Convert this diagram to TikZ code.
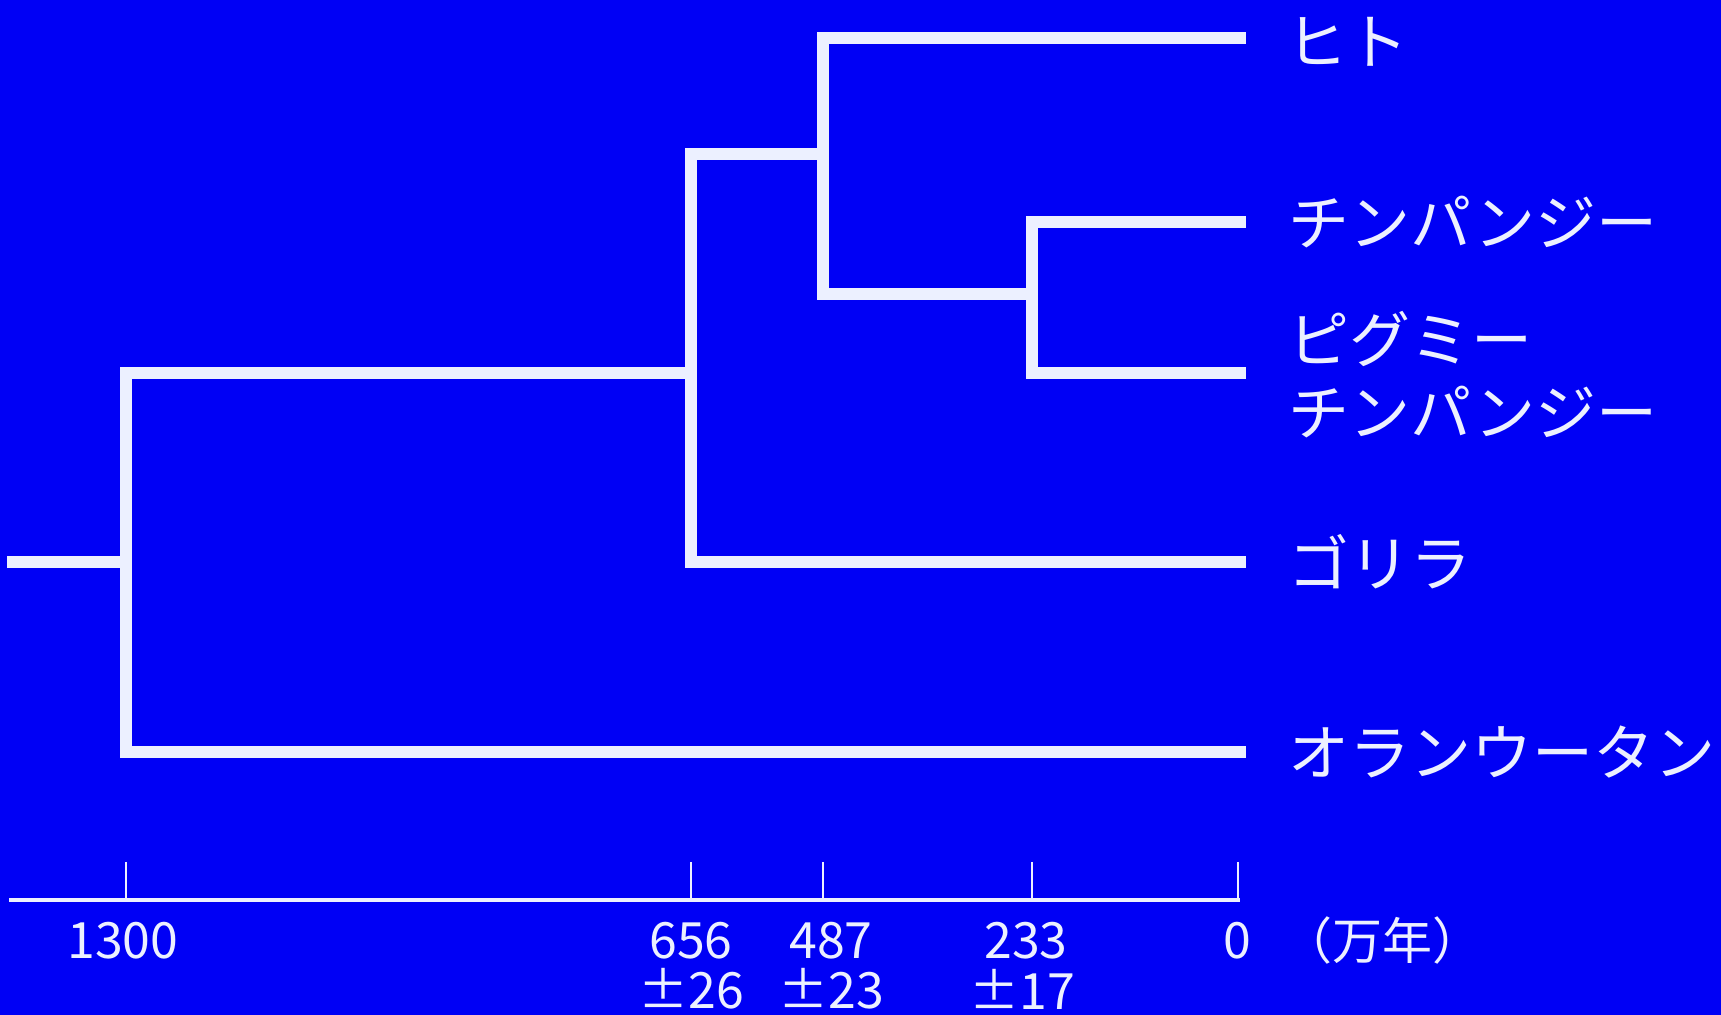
\documentclass[tikz,border=0pt]{standalone}
\usepackage{fontspec}
\newfontfamily\jpfont{Noto Sans CJK JP}
\definecolor{bgblue}{RGB}{0,0,245}
\definecolor{linewhite}{RGB}{236,240,255}
\begin{document}
\begin{tikzpicture}[x=0.5pt,y=-0.5pt,
  branch/.style={draw=linewhite,line width=6pt,line join=miter,line cap=rect},
  axisline/.style={draw=linewhite,line width=2pt},
  tickline/.style={draw=linewhite,line width=1pt},
  leaf/.style={anchor=west,text=linewhite,font=\jpfont\fontsize{30.5}{36.5}\selectfont,inner sep=0pt,align=left},
  ticklab/.style={anchor=center,text=linewhite,font=\jpfont\fontsize{25}{24}\selectfont,inner sep=0pt,align=center}]
\fill[bgblue] (0,0) rectangle (1721,1015);
\useasboundingbox (0,0) rectangle (1721,1015);
% leaf ends
\coordinate (hum) at (1240,38);
\coordinate (chi) at (1240,222);
\coordinate (pyg) at (1240,373);
\coordinate (gor) at (1240,562);
\coordinate (ora) at (1240,752);
% internal points
\coordinate (b487) at (823,294);
\coordinate (b487m) at (823,154);
\coordinate (b233) at (1032,294);
\coordinate (b656) at (691,562);
\coordinate (b656m) at (691,373);
\coordinate (b1300) at (126,752);
\coordinate (b1300m) at (126,562);
\coordinate (root) at (13,562);
% branches
\draw[branch] (hum) -| (b487) -- (b233);
\draw[branch] (chi) -| (b233) |- (pyg);
\draw[branch] (b487m) -| (b656) -- (gor);
\draw[branch] (b656m) -| (b1300) -- (ora);
\draw[branch] (root) -- (b1300m);
% leaf labels
\node[leaf] (lhum) at (1286,42) {ヒト};
\node[leaf] (lchi) at (1288,222) {チンパンジー};
\node[leaf] (lpyg) at (1288,375) {ピグミー\\チンパンジー};
\node[leaf] (lgor) at (1288,562) {ゴリラ};
\node[leaf] (lora) at (1288,752) {オランウータン};
% axis
\coordinate (axl) at (9,900);
\coordinate (axr) at (1240,900);
\draw[axisline] (axl) -- (axr);
\foreach \n/\x in {t1300/126,t656/691,t487/823,t233/1032,t0/1238}{
  \coordinate (\n top) at (\x,862);
  \coordinate (\n bot) at (\x,900);
  \draw[tickline] (\n top) -- (\n bot);
}
\node[ticklab] (l1300) at (123,941) {1300};
\node[ticklab] (l656) at (691,941) {656};
\node[ticklab] (p656) at (691,989) {±26};
\node[ticklab] (l487) at (831,941) {487};
\node[ticklab] (p487) at (831,989) {±23};
\node[ticklab] (l233) at (1026,941) {233};
\node[ticklab] (p233) at (1022,989) {±17};
\node[ticklab] (l0) at (1237,941) {0};
\node[ticklab] (unit) at (1382,941) {（万年）};
\end{tikzpicture}
\end{document}
